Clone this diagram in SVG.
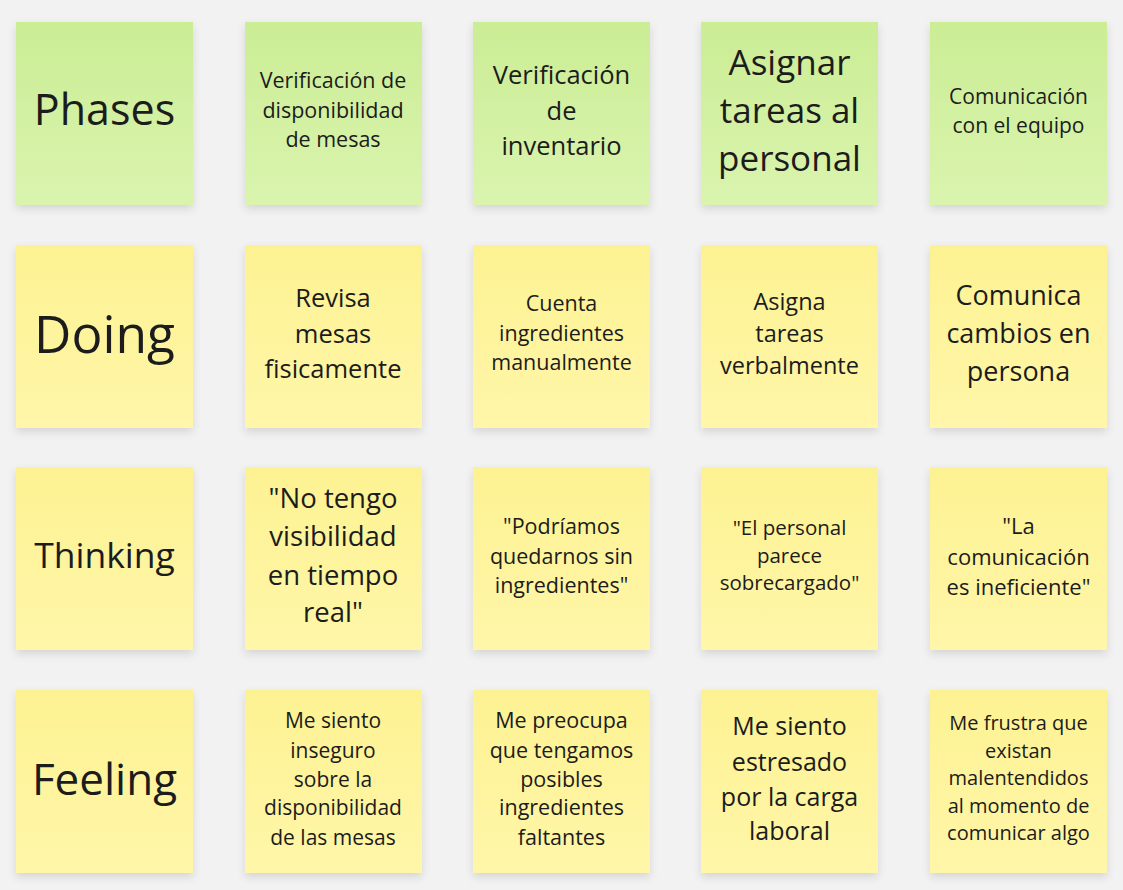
<svg xmlns="http://www.w3.org/2000/svg" width="1123" height="890" viewBox="0 0 1123 890">
<defs>
<linearGradient id="gGreen" x1="0" y1="0" x2="0" y2="1"><stop offset="0" stop-color="#cbed95"/><stop offset="1" stop-color="#daf4ae"/></linearGradient>
<linearGradient id="gYellow" x1="0" y1="0" x2="0" y2="1"><stop offset="0" stop-color="#fdf292"/><stop offset="1" stop-color="#fff6a9"/></linearGradient>
<filter id="sh" x="-10%" y="-10%" width="120%" height="125%"><feDropShadow dx="0" dy="4" stdDeviation="4" flood-color="#000" flood-opacity="0.12"/></filter>
<style>
.note{filter:url(#sh)}
.g{fill:url(#gGreen)}
.y{fill:url(#gYellow)}
text{font-family:"Open Sans","Noto Sans",sans-serif;fill:#1c1c1c;text-anchor:middle}
</style>
</defs>
<rect width="1123" height="890" fill="#f2f2f2"/>
<g id="connectors"/>
<!-- Row 1 -->
<g id="phases"><rect class="note g" x="16" y="22" width="177" height="183"/><text x="104.5" y="125" font-size="43">Phases</text></g>
<g id="p1"><rect class="note g" x="245" y="22" width="177" height="183"/><text x="333" font-size="21.5"><tspan x="333" y="88">Verificación de</tspan><tspan x="333" y="117.5">disponibilidad</tspan><tspan x="333" y="147">de mesas</tspan></text></g>
<g id="p2"><rect class="note g" x="473" y="22" width="177" height="183"/><text x="561.5" font-size="25.5"><tspan x="561.5" y="84">Verificación</tspan><tspan x="561.5" y="119.5">de</tspan><tspan x="561.5" y="155">inventario</tspan></text></g>
<g id="p3"><rect class="note g" x="701" y="22" width="177" height="183"/><text x="789.5" font-size="35"><tspan x="789.5" y="75">Asignar</tspan><tspan x="789.5" y="123">tareas al</tspan><tspan x="789.5" y="171">personal</tspan></text></g>
<g id="p4"><rect class="note g" x="930" y="22" width="177" height="183"/><text x="1018.5" font-size="21"><tspan x="1018.5" y="104">Comunicación</tspan><tspan x="1018.5" y="133">con el equipo</tspan></text></g>
<!-- Row 2 -->
<g id="doing"><rect class="note y" x="16" y="245" width="177" height="183"/><text x="104.5" y="353" font-size="51.5">Doing</text></g>
<g id="d1"><rect class="note y" x="245" y="245" width="177" height="183"/><text x="333" font-size="25.5"><tspan x="333" y="307">Revisa</tspan><tspan x="333" y="343">mesas</tspan><tspan x="333" y="378">fisicamente</tspan></text></g>
<g id="d2"><rect class="note y" x="473" y="245" width="177" height="183"/><text x="561.5" font-size="21.5"><tspan x="561.5" y="311">Cuenta</tspan><tspan x="561.5" y="341">ingredientes</tspan><tspan x="561.5" y="370">manualmente</tspan></text></g>
<g id="d3"><rect class="note y" x="701" y="245" width="177" height="183"/><text x="789.5" font-size="23.5"><tspan x="789.5" y="310">Asigna</tspan><tspan x="789.5" y="342">tareas</tspan><tspan x="789.5" y="374">verbalmente</tspan></text></g>
<g id="d4"><rect class="note y" x="930" y="245" width="177" height="183"/><text x="1018.5" font-size="27"><tspan x="1018.5" y="305">Comunica</tspan><tspan x="1018.5" y="343">cambios en</tspan><tspan x="1018.5" y="381">persona</tspan></text></g>
<!-- Row 3 -->
<g id="thinking"><rect class="note y" x="16" y="467" width="177" height="183"/><text x="104.5" y="568" font-size="35.5">Thinking</text></g>
<g id="t1"><rect class="note y" x="245" y="467" width="177" height="183"/><text x="333" font-size="27.5"><tspan x="333" y="508">"No tengo</tspan><tspan x="333" y="546">visibilidad</tspan><tspan x="333" y="585">en tiempo</tspan><tspan x="333" y="622">real"</tspan></text></g>
<g id="t2"><rect class="note y" x="473" y="467" width="177" height="183"/><text x="561.5" font-size="21.5"><tspan x="561.5" y="534">"Podríamos</tspan><tspan x="561.5" y="564">quedarnos sin</tspan><tspan x="561.5" y="593">ingredientes"</tspan></text></g>
<g id="t3"><rect class="note y" x="701" y="467" width="177" height="183"/><text x="789.5" font-size="20.5"><tspan x="789.5" y="535">"El personal</tspan><tspan x="789.5" y="563">parece</tspan><tspan x="789.5" y="590">sobrecargado"</tspan></text></g>
<g id="t4"><rect class="note y" x="930" y="467" width="177" height="183"/><text x="1018.5" font-size="22"><tspan x="1018.5" y="533.5">"La</tspan><tspan x="1018.5" y="564.5">comunicación</tspan><tspan x="1018.5" y="594.5">es ineficiente"</tspan></text></g>
<!-- Row 4 -->
<g id="feeling"><rect class="note y" x="16" y="690" width="177" height="183"/><text x="104.5" y="795" font-size="44">Feeling</text></g>
<g id="f1"><rect class="note y" x="245" y="690" width="177" height="183"/><text x="333" font-size="21"><tspan x="333" y="728">Me siento</tspan><tspan x="333" y="758">inseguro</tspan><tspan x="333" y="787">sobre la</tspan><tspan x="333" y="815">disponibilidad</tspan><tspan x="333" y="845">de las mesas</tspan></text></g>
<g id="f2"><rect class="note y" x="473" y="690" width="177" height="183"/><text x="561.5" font-size="21.5"><tspan x="561.5" y="728">Me preocupa</tspan><tspan x="561.5" y="758">que tengamos</tspan><tspan x="561.5" y="787">posibles</tspan><tspan x="561.5" y="815">ingredientes</tspan><tspan x="561.5" y="845">faltantes</tspan></text></g>
<g id="f3"><rect class="note y" x="701" y="690" width="177" height="183"/><text x="789.5" font-size="25"><tspan x="789.5" y="734.5">Me siento</tspan><tspan x="789.5" y="770.5">estresado</tspan><tspan x="789.5" y="805.5">por la carga</tspan><tspan x="789.5" y="839.5">laboral</tspan></text></g>
<g id="f4"><rect class="note y" x="930" y="690" width="177" height="183"/><text x="1018.5" font-size="20"><tspan x="1018.5" y="730">Me frustra que</tspan><tspan x="1018.5" y="758">existan</tspan><tspan x="1018.5" y="785">malentendidos</tspan><tspan x="1018.5" y="813">al momento de</tspan><tspan x="1018.5" y="840">comunicar algo</tspan></text></g>
</svg>
